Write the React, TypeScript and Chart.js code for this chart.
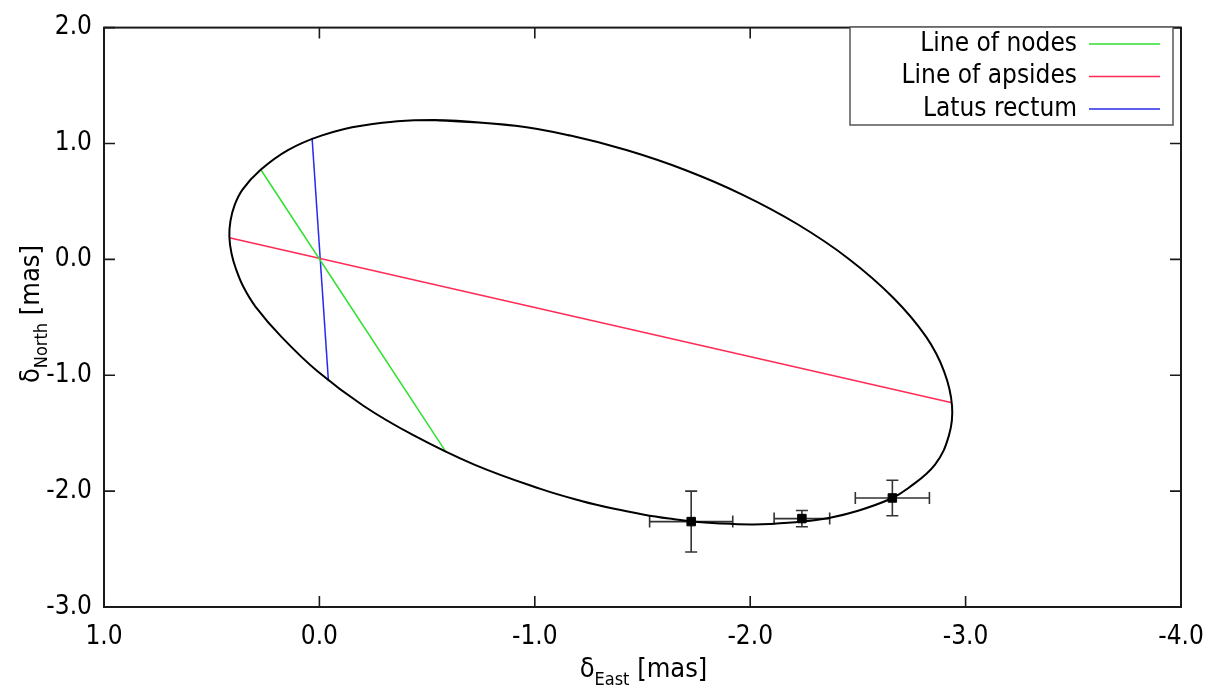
import React, { useEffect, useRef } from "react";
import { Chart, registerables } from "chart.js";

Chart.register(...registerables);

// Projected orbit, in mas — starts at the top and runs clockwise
const ellipseX = [-0.529, -0.910, -1.165, -1.429, -1.698, -1.963, -2.218, -2.455, -2.664, -2.817, -2.900, -2.937, -2.923, -2.858, -2.733, -2.650, -2.501, -2.371, -2.241, -2.093, -2.005, -1.870, -1.731, -1.624, -1.508, -1.369, -1.216, -1.030, -0.719, -0.436, -0.204, 0.009, 0.176, 0.297, 0.353, 0.387, 0.408, 0.418, 0.413, 0.394, 0.357, 0.274, 0.148, -0.009, -0.195];
const ellipseY = [1.203, 1.153, 1.068, 0.941, 0.771, 0.559, 0.305, 0.008, -0.331, -0.669, -0.966, -1.263, -1.517, -1.771, -1.975, -2.068, -2.169, -2.229, -2.263, -2.284, -2.288, -2.280, -2.263, -2.237, -2.203, -2.153, -2.085, -1.983, -1.771, -1.517, -1.263, -0.966, -0.669, -0.407, -0.237, -0.085, 0.051, 0.195, 0.331, 0.466, 0.602, 0.771, 0.941, 1.068, 1.153];

const nodesX = [0.274, -0.588];
const nodesY = [0.780, -1.664];
const apsidesX = [0.418, -2.937];
const apsidesY = [0.186, -1.237];
const latusX = [0.034, -0.042];
const latusY = [1.048, -1.051];

const obsX = [-1.726, -2.240, -2.660];
const obsY = [-2.263, -2.237, -2.059];
const obsXErr = [0.193, 0.129, 0.172];
const obsYErr = [0.263, 0.070, 0.153];

const xTicks = [1, 0, -1, -2, -3, -4];
const yTicks = [2, 1, 0, -1, -2, -3];

const legendLabels = ["Line of nodes", "Line of apsides", "Latus rectum"];
const GREEN = "#2ee02e";
const RED = "#ff2a55";
const BLUE = "#2a2aee";
const legendColors = [GREEN, RED, BLUE];

const FONT = "'DejaVu Sans Condensed', 'DejaVu Sans', sans-serif";

const zip = (xs: number[], ys: number[]) => xs.map((x, i) => ({ x, y: ys[i] }));

const framePlugin = {
  id: "gnuFrame",
  beforeDatasetsDraw(chart: any) {
    const { ctx, scales } = chart;
    const xs = scales.x;
    const ys = scales.y;
    ctx.save();
    ctx.strokeStyle = "#333";
    ctx.lineWidth = 1.6;
    const cap = 6;
    obsX.forEach((xv, i) => {
      const px = xs.getPixelForValue(xv);
      const py = ys.getPixelForValue(obsY[i]);
      const x1 = xs.getPixelForValue(xv - obsXErr[i]);
      const x2 = xs.getPixelForValue(xv + obsXErr[i]);
      const y1 = ys.getPixelForValue(obsY[i] - obsYErr[i]);
      const y2 = ys.getPixelForValue(obsY[i] + obsYErr[i]);
      ctx.beginPath();
      ctx.moveTo(x1, py); ctx.lineTo(x2, py);
      ctx.moveTo(x1, py - cap); ctx.lineTo(x1, py + cap);
      ctx.moveTo(x2, py - cap); ctx.lineTo(x2, py + cap);
      ctx.moveTo(px, y1); ctx.lineTo(px, y2);
      ctx.moveTo(px - cap, y1); ctx.lineTo(px + cap, y1);
      ctx.moveTo(px - cap, y2); ctx.lineTo(px + cap, y2);
      ctx.stroke();
    });
    ctx.restore();
  },
  afterDraw(chart: any) {
    const { ctx, chartArea: a, scales } = chart;
    const xs = scales.x;
    const ys = scales.y;
    ctx.save();
    ctx.strokeStyle = "#1a1a1a";
    ctx.lineWidth = 2;
    ctx.strokeRect(a.left, a.top, a.right - a.left, a.bottom - a.top);
    const tl = 11;
    ctx.lineWidth = 1.6;
    ctx.beginPath();
    xTicks.forEach((v) => {
      const p = xs.getPixelForValue(v);
      ctx.moveTo(p, a.bottom); ctx.lineTo(p, a.bottom - tl);
      ctx.moveTo(p, a.top); ctx.lineTo(p, a.top + tl);
    });
    yTicks.forEach((v) => {
      const p = ys.getPixelForValue(v);
      ctx.moveTo(a.left, p); ctx.lineTo(a.left + tl, p);
      ctx.moveTo(a.right, p); ctx.lineTo(a.right - tl, p);
    });
    ctx.stroke();

    // legend
    const bx = 850, by = 27, bw = 323, bh = 98;
    ctx.fillStyle = "#fff";
    ctx.fillRect(bx, by, bw, bh);
    ctx.strokeStyle = "#555";
    ctx.lineWidth = 1.5;
    ctx.strokeRect(bx, by, bw, bh);
    ctx.font = `26px ${FONT}`;
    ctx.textAlign = "right";
    ctx.textBaseline = "middle";
    legendLabels.forEach((lab, i) => {
      const cy = 44 + i * 32.5;
      ctx.fillStyle = "#000";
      ctx.fillText(lab, 1077, cy);
      ctx.strokeStyle = legendColors[i];
      ctx.lineWidth = 1.5;
      ctx.beginPath();
      ctx.moveTo(1089, cy);
      ctx.lineTo(1160, cy);
      ctx.stroke();
    });

    // axis titles with subscripts
    const main = `27px ${FONT}`;
    const sub = `18px ${FONT}`;
    const drawTitle = (sym: string, subTxt: string, rest: string, cx: number, baseY: number) => {
      ctx.textAlign = "left";
      ctx.textBaseline = "alphabetic";
      ctx.fillStyle = "#000";
      ctx.font = main;
      const w1 = ctx.measureText(sym).width;
      const w3 = ctx.measureText(rest).width;
      ctx.font = sub;
      const w2 = ctx.measureText(subTxt).width;
      const total = w1 + w2 + w3;
      let x = cx - total / 2;
      ctx.font = main;
      ctx.fillText(sym, x, baseY);
      x += w1;
      ctx.font = sub;
      ctx.fillText(subTxt, x, baseY + 8);
      x += w2;
      ctx.font = main;
      ctx.fillText(rest, x, baseY);
    };
    drawTitle("δ", "East", " [mas]", (a.left + a.right) / 2 + 1, 677);
    ctx.save();
    ctx.translate(39, 314);
    ctx.rotate(-Math.PI / 2);
    drawTitle("δ", "North", " [mas]", 0, 0);
    ctx.restore();
    ctx.restore();
  },
};

export default function App() {
  const ref = useRef<HTMLCanvasElement | null>(null);
  useEffect(() => {
    if (!ref.current) return;
    const ell = zip(ellipseX, ellipseY);
    const closed = [...ell, ell[0], ell[1]];
    const chart = new Chart(ref.current, {
      type: "scatter",
      data: {
        datasets: [
          { label: "Orbit", data: closed, showLine: true, borderColor: "#000", borderWidth: 2, pointRadius: 0, tension: 0.4, fill: false },
          { label: legendLabels[0], data: zip(nodesX, nodesY), showLine: true, borderColor: GREEN, borderWidth: 1.5, pointRadius: 0 },
          { label: legendLabels[1], data: zip(apsidesX, apsidesY), showLine: true, borderColor: RED, borderWidth: 1.5, pointRadius: 0 },
          { label: legendLabels[2], data: zip(latusX, latusY), showLine: true, borderColor: BLUE, borderWidth: 1.5, pointRadius: 0 },
          { label: "Observations", data: zip(obsX, obsY), showLine: false, pointStyle: "rect", pointRadius: 6, backgroundColor: "#000", borderColor: "#000", borderWidth: 1 },
        ] as any,
      },
      options: {
        responsive: false,
        animation: false,
        layout: { padding: { top: 16, right: 49, left: 0, bottom: 0 } },
        plugins: { legend: { display: false }, tooltip: { enabled: false } },
        scales: {
          x: {
            type: "linear",
            reverse: true,
            min: -4,
            max: 1,
            afterFit: (s: any) => { s.height = 82; },
            grid: { display: false, drawTicks: false },
            border: { display: false },
            afterBuildTicks: (s: any) => { s.ticks = xTicks.map((v) => ({ value: v })); },
            ticks: { callback: (v: any) => Number(v).toFixed(1), font: { family: FONT, size: 26 }, color: "#000", padding: 15, maxRotation: 0, autoSkip: false },
          },
          y: {
            type: "linear",
            min: -3,
            max: 2,
            afterFit: (s: any) => { s.width = 104; },
            grid: { display: false, drawTicks: false },
            border: { display: false },
            afterBuildTicks: (s: any) => { s.ticks = yTicks.map((v) => ({ value: v })); },
            ticks: { callback: (v: any) => Number(v).toFixed(1), font: { family: FONT, size: 26 }, color: "#000", padding: 12, autoSkip: false },
          },
        },
      } as any,
      plugins: [framePlugin],
    });
    return () => chart.destroy();
  }, []);
  return (
    <div style={{ position: "absolute", left: 0, top: 0, width: 1230, height: 689, background: "#fff" }}>
      <canvas ref={ref} width={1230} height={689} />
    </div>
  );
}
